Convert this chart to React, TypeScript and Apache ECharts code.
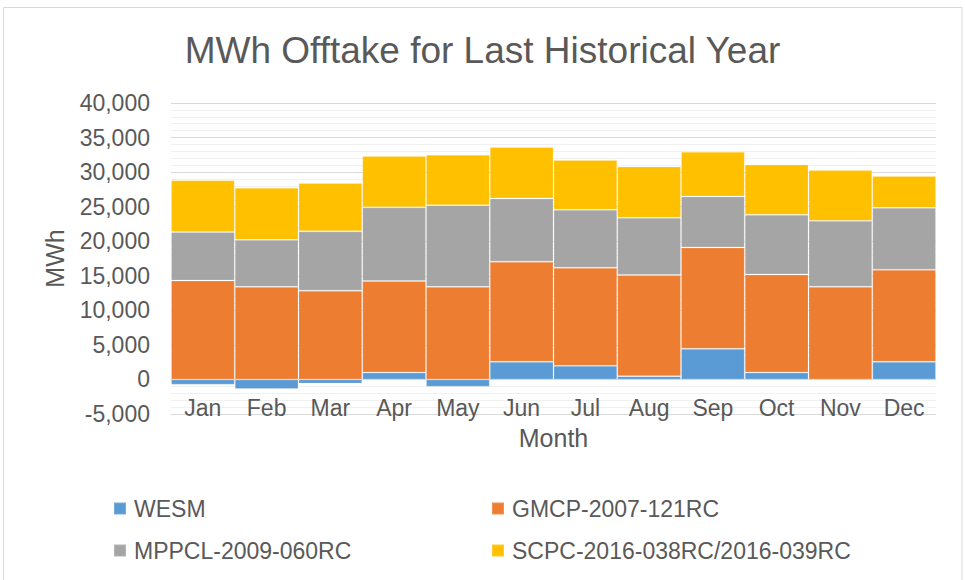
import React, { useEffect, useRef } from "react";
import * as echarts from "echarts";

const months = ["Jan", "Feb", "Mar", "Apr", "May", "Jun", "Jul", "Aug", "Sep", "Oct", "Nov", "Dec"];
const wesm = [-750, -1400, -600, 1000, -1050, 2550, 1980, 480, 4440, 1000, 0, 2560];
const gmcp = [14300, 13400, 12850, 13250, 13400, 14480, 14180, 14620, 14660, 14190, 13410, 13310];
const mppcl = [7040, 6800, 8590, 10660, 11820, 9160, 8390, 8300, 7380, 8630, 9550, 8970];
const scpc = [7480, 7530, 6990, 7430, 7280, 7430, 7190, 7420, 6470, 7280, 7330, 4590];
const seriesNames = ["WESM", "GMCP-2007-121RC", "MPPCL-2009-060RC", "SCPC-2016-038RC/2016-039RC"];
const seriesColors = ["#5B9BD5", "#ED7D31", "#A5A5A5", "#FFC000"];

const FONT = '"Liberation Sans", Arial, sans-serif';
const TXT = "#595959";
const Y_MIN = -5000;
const Y_MAX = 40000;
const GRID_TOP = 103;
const GRID_BOTTOM = 166;
const CHART_H = 580;

export default function App() {
  const ref = useRef<HTMLDivElement>(null);
  useEffect(() => {
    document.body.style.margin = "0";
    const chart = echarts.init(ref.current!, null, { renderer: "svg" });
    const values = [wesm, gmcp, mppcl, scpc];
    const plotH = CHART_H - GRID_TOP - GRID_BOTTOM;
    // distance from bottom of plot to the zero line, so the category axis sits on zero
    const zeroOffset = (plotH * (0 - Y_MIN)) / (Y_MAX - Y_MIN);
    const legendText = { color: TXT, fontSize: 23, fontFamily: FONT, padding: [0, 0, 0, 3] };
    chart.setOption({
      animation: false,
      backgroundColor: "#ffffff",
      textStyle: { fontFamily: FONT },
      title: {
        text: "MWh Offtake for Last Historical Year",
        left: "center",
        top: 27,
        textStyle: { color: TXT, fontSize: 37, fontWeight: "normal", fontFamily: FONT },
      },
      graphic: [
        {
          type: "rect",
          z: -10,
          shape: { x: 3.5, y: 7.5, width: 958.5, height: 620 },
          style: { fill: "none", stroke: "#d9d9d9", lineWidth: 1 },
        },
      ],
      legend: [
        {
          data: [seriesNames[0], seriesNames[2]],
          orient: "vertical",
          left: 113,
          top: 497,
          padding: 0,
          itemWidth: 12,
          itemHeight: 12,
          itemGap: 19,
          icon: "rect",
          textStyle: legendText,
        },
        {
          data: [seriesNames[1], seriesNames[3]],
          orient: "vertical",
          left: 491,
          top: 497,
          padding: 0,
          itemWidth: 12,
          itemHeight: 12,
          itemGap: 19,
          icon: "rect",
          textStyle: legendText,
        },
      ],
      grid: { left: 171, right: 29, top: GRID_TOP, bottom: GRID_BOTTOM, containLabel: false },
      xAxis: {
        type: "category",
        data: months,
        offset: -zeroOffset,
        name: "Month",
        nameLocation: "middle",
        nameGap: 46,
        nameTextStyle: { color: TXT, fontSize: 25, fontFamily: FONT },
        axisLine: { show: true, onZero: false, lineStyle: { color: "#d9d9d9", width: 1 } },
        axisTick: { show: false },
        axisLabel: { color: TXT, fontSize: 23, fontFamily: FONT, margin: 17 },
        z: 5,
      },
      yAxis: {
        type: "value",
        min: Y_MIN,
        max: Y_MAX,
        interval: 5000,
        name: "MWh",
        nameLocation: "middle",
        nameGap: 104,
        nameTextStyle: { color: TXT, fontSize: 25, fontFamily: FONT },
        axisLine: { show: false },
        axisTick: { show: false },
        axisLabel: {
          color: TXT,
          fontSize: 23,
          fontFamily: FONT,
          margin: 21,
          formatter: (v: number) => v.toLocaleString("en-US"),
        },
        splitLine: { show: true, lineStyle: { color: "#d9d9d9", width: 1 } },
        minorTick: { show: false, splitNumber: 5 },
        minorSplitLine: { show: true, lineStyle: { color: "#f0f0f0", width: 1 } },
      },
      series: values.map((d, i) => ({
        name: seriesNames[i],
        type: "bar",
        stack: "total",
        data: d,
        barWidth: "100%",
        barCategoryGap: "0%",
        itemStyle: {
          color: seriesColors[i],
          borderColor: "rgba(255,255,255,0.18)",
          borderWidth: 1,
        },
        emphasis: { disabled: true },
      })),
    });
    return () => chart.dispose();
  }, []);
  return <div ref={ref} style={{ width: 965, height: 580 }} />;
}
